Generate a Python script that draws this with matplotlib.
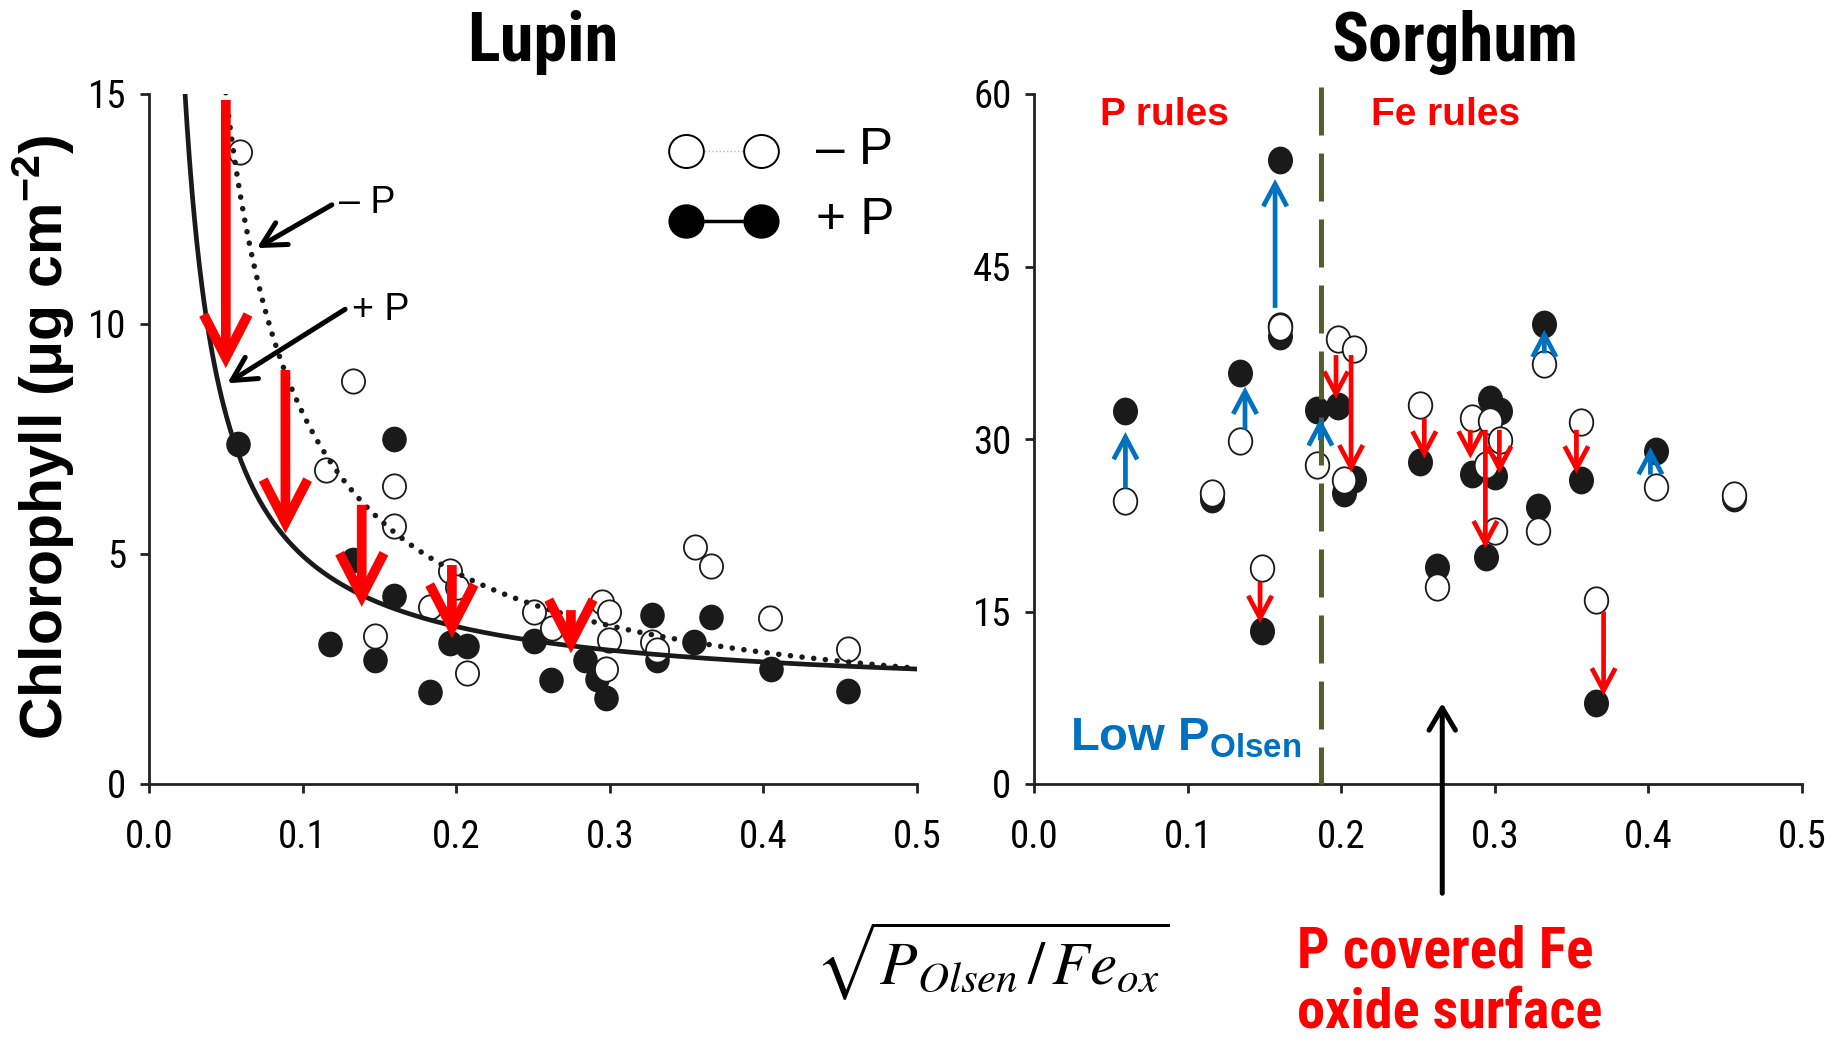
import numpy as np
import matplotlib
matplotlib.use("Agg")
import matplotlib.pyplot as plt
from matplotlib import font_manager as fm
from matplotlib.path import Path

# ---------------- data ----------------
# Lupin: open circles (-P) and filled circles (+P)
lupin_minusP_x = [0.059, 0.115, 0.133, 0.1596, 0.1592, 0.1472, 0.183, 0.196, 0.2004, 0.207,
                  0.2504, 0.2623, 0.2949, 0.2992, 0.2992, 0.2977, 0.3275, 0.3307, 0.3557,
                  0.3661, 0.404, 0.455]
lupin_minusP_y = [13.74, 6.82, 8.77, 6.48, 5.61, 3.22, 3.85, 4.62, 4.29, 2.41,
                  3.75, 3.40, 3.95, 3.73, 3.13, 2.49, 3.09, 2.91, 5.16,
                  4.74, 3.60, 2.94]
lupin_plusP_x = [0.058, 0.1592, 0.1327, 0.1596, 0.118, 0.1472, 0.1831, 0.196, 0.207, 0.2504,
                 0.2617, 0.284, 0.2917, 0.2977, 0.3275, 0.3307, 0.3546, 0.3659, 0.405, 0.455]
lupin_plusP_y = [7.39, 7.50, 4.87, 4.09, 3.04, 2.70, 2.01, 3.06, 2.99, 3.11,
                 2.27, 2.70, 2.28, 1.86, 3.67, 2.70, 3.09, 3.64, 2.50, 2.02]
# fitted curves  y = a + b / x
lupin_fit_plusP = (1.883, 0.308)
lupin_fit_minusP = (1.127, 0.694)
# red arrows (x, from, to)
lupin_arrow_x = [0.050, 0.0888, 0.1385, 0.1972, 0.2747]
lupin_arrow_from = [14.87, 9.00, 6.07, 4.76, 3.78]
lupin_arrow_to = [9.04, 5.45, 3.85, 3.17, 2.84]

# Sorghum: paired samples
sorghum_x = [0.059, 0.116, 0.134, 0.148, 0.160, 0.160, 0.184, 0.198, 0.2085, 0.202, 0.251,
             0.262, 0.285, 0.297, 0.303, 0.294, 0.300, 0.328, 0.332, 0.356, 0.366, 0.405, 0.456]
sorghum_minusP = [24.6, 25.3, 29.8, 18.8, 39.8, 39.7, 27.7, 38.7, 37.8, 26.4, 33.0,
                  17.1, 31.8, 31.6, 29.9, 27.7, 22.0, 22.0, 36.5, 31.5, 16.0, 25.8, 25.1]
sorghum_plusP = [32.4, 24.8, 35.7, 13.3, 54.3, 39.0, 32.5, 32.9, 26.5, 25.3, 28.0,
                 18.9, 27.0, 33.5, 32.4, 19.7, 26.8, 24.1, 40.0, 26.4, 7.05, 29.0, 24.9]
sorghum_arrow_x = [0.0593, 0.1372, 0.1568, 0.1863, 0.3322, 0.4013,
                   0.147, 0.1965, 0.2063, 0.254, 0.284, 0.2938, 0.3029, 0.3531, 0.3708]
sorghum_arrow_from = [25.7, 30.8, 41.4, 29.9, 37.45, 26.9,
                      17.6, 37.3, 37.3, 31.8, 30.8, 30.8, 30.8, 30.8, 15.0]
sorghum_arrow_to = [30.6, 34.55, 52.6, 31.8, 39.5, 29.3,
                    14.0, 33.5, 27.1, 28.3, 28.3, 20.5, 27.0, 27.0, 7.7]
sorghum_arrow_kind = ["up"] * 6 + ["down"] * 9
threshold_x = 0.187

xticks = [0.0, 0.1, 0.2, 0.3, 0.4, 0.5]
xticklabels = ["0.0", "0.1", "0.2", "0.3", "0.4", "0.5"]
lupin_yticks = [0, 5, 10, 15]
sorghum_yticks = [0, 15, 30, 45, 60]

# ---------------- style ----------------
RED = "#FF0000"
BLUE = "#0070C0"
OLIVE = "#4F6228"
DARK = "#1a1a1a"
SANS = "Liberation Sans"

# look for a narrow / condensed sans family
_fl = fm.fontManager.ttflist
_names = {f.name for f in _fl}
NARROW_FAM, NARROW_STRETCH, HAS_NARROW = SANS, "normal", False
for cand in ["Liberation Sans Narrow", "Arial Narrow", "Roboto Condensed"]:
    if cand in _names:
        NARROW_FAM, HAS_NARROW = cand, True
        break
if not HAS_NARROW:
    for fam in ["Roboto", "Open Sans", "Noto Sans", "DejaVu Sans"]:
        if any(f.name == fam and str(f.stretch) != "normal" for f in _fl):
            NARROW_FAM, NARROW_STRETCH, HAS_NARROW = fam, "condensed", True
            break

plt.rcParams["font.family"] = [SANS, "DejaVu Sans"]
plt.rcParams["mathtext.fontset"] = "custom"
plt.rcParams["mathtext.rm"] = "Liberation Sans"
plt.rcParams["mathtext.bf"] = "Liberation Sans:bold"
plt.rcParams["mathtext.it"] = "Liberation Sans:italic"

W, H = 1843, 1045
fig = plt.figure(figsize=(W / 100, H / 100), dpi=100)
fig.patch.set_facecolor("white")

axL = fig.add_axes([149 / W, 1 - 784 / H, 768 / W, 690 / H])
axR = fig.add_axes([1034.4 / W, 1 - 784 / H, 767.5 / W, 690 / H])

TICK_FS = 28 if HAS_NARROW else 25


def ellipse(ratio):
    c = Path.unit_circle()
    return Path(c.vertices * np.array([1.0 / ratio, 1.0]), c.codes)


def style_axis(ax, yticks):
    for s in ["top", "right"]:
        ax.spines[s].set_visible(False)
    for s in ["left", "bottom"]:
        ax.spines[s].set_linewidth(2.0)
        ax.spines[s].set_color("#222222")
    ax.set_xlim(0, 0.5)
    ax.set_xticks(xticks)
    ax.set_xticklabels(xticklabels)
    ax.set_yticks(yticks)
    ax.set_yticklabels([str(v) for v in yticks])
    ax.tick_params(axis="both", direction="out", length=6.5, width=2.0, color="#222222",
                   labelsize=TICK_FS)
    ax.tick_params(axis="x", pad=19)
    ax.tick_params(axis="y", pad=10)
    for lab in ax.get_xticklabels() + ax.get_yticklabels():
        lab.set_fontfamily(NARROW_FAM)
        lab.set_fontstretch(NARROW_STRETCH)


def arrow(ax, x, y0, y1, color, lw, hl, hw, z=6):
    ax.annotate("", xy=(x, y1), xytext=(x, y0),
                arrowprops=dict(arrowstyle=f"->,head_length={hl},head_width={hw}",
                                color=color, lw=lw, shrinkA=0, shrinkB=0,
                                mutation_scale=1, joinstyle="miter", capstyle="butt",
                                clip_on=False),
                annotation_clip=False, zorder=z)


# ---------------- Lupin ----------------
axL.set_ylim(0, 15)
style_axis(axL, lupin_yticks)
mL = ellipse(1.05)
axL.plot(lupin_plusP_x, lupin_plusP_y, ls="none", marker=mL, ms=17.5,
         mfc=DARK, mec=DARK, mew=1.0, zorder=3)
axL.plot(lupin_minusP_x, lupin_minusP_y, ls="none", marker=mL, ms=17.5,
         mfc="white", mec=DARK, mew=1.3, zorder=3)

xs = np.linspace(0.02, 0.5, 600)
a, b = lupin_fit_plusP
axL.plot(xs, a + b / xs, color=DARK, lw=3.4, zorder=4, solid_capstyle="butt")
xs2 = np.linspace(0.045, 0.5, 600)
a, b = lupin_fit_minusP
axL.plot(xs2, a + b / xs2, color=DARK, lw=4.0, ls=(0, (0.01, 2.1)),
         dash_capstyle="round", zorder=4)

for x, y0, y1 in zip(lupin_arrow_x, lupin_arrow_from, lupin_arrow_to):
    arrow(axL, x, y0, y1, RED, 7.0, 31, 16)

# pointer annotations
axL.annotate("", xy=(0.0702, 11.65), xytext=(0.119, 12.59),
             arrowprops=dict(arrowstyle="->,head_length=17,head_width=9", color="black",
                             lw=3.6, shrinkA=0, shrinkB=0, mutation_scale=1), zorder=7)
axL.annotate("", xy=(0.051, 8.71), xytext=(0.1277, 10.32),
             arrowprops=dict(arrowstyle="->,head_length=17,head_width=9", color="black",
                             lw=3.6, shrinkA=0, shrinkB=0, mutation_scale=1), zorder=7)
axL.text(0.1235, 12.41, "\u2013 P", fontsize=27, family=SANS, va="baseline", ha="left")
axL.text(0.132, 10.09, "+ P", fontsize=27, family=SANS, va="baseline", ha="left")

# legend (drawn)
lx1, lx2 = 0.3498, 0.3987
ly1, ly2 = 13.77, 12.24
axL.plot([lx1, lx2], [ly1, ly1], color="#bbbbbb", lw=1.0, ls=":", zorder=5)
axL.plot([lx1, lx2], [ly1, ly1], ls="none", marker=ellipse(0.95), ms=25, mfc="white",
         mec="black", mew=1.4, zorder=6, clip_on=False)
axL.plot([lx1, lx2], [ly2, ly2], color="black", lw=2.5, zorder=5)
axL.plot([lx1, lx2], [ly2, ly2], ls="none", marker=ellipse(0.95), ms=25, mfc="black",
         mec="black", mew=1.0, zorder=6, clip_on=False)
axL.text(0.4345, ly1, "\u2013 P", fontsize=37, family=SANS, va="center", ha="left")
axL.text(0.4345, ly2, "+ P", fontsize=37, family=SANS, va="center", ha="left")

# ---------------- Sorghum ----------------
axR.set_ylim(0, 60)
style_axis(axR, sorghum_yticks)
mR = ellipse(1.12)
axR.plot(sorghum_x, sorghum_plusP, ls="none", marker=mR, ms=19,
         mfc=DARK, mec=DARK, mew=1.0, zorder=3)
axR.plot(sorghum_x, sorghum_minusP, ls="none", marker=mR, ms=19,
         mfc="white", mec=DARK, mew=1.3, zorder=3)
axR.plot([threshold_x, threshold_x], [60.6, 0], color=OLIVE, lw=3.6,
         ls=(0, (9.6, 3.6)), zorder=4, clip_on=False, solid_capstyle="butt",
         dash_capstyle="butt")
for x, y0, y1, k in zip(sorghum_arrow_x, sorghum_arrow_from, sorghum_arrow_to,
                        sorghum_arrow_kind):
    arrow(axR, x, y0, y1, BLUE if k == "up" else RED, 3.4, 16, 8.5)

axR.text(0.0844, 57.3, "P rules", color=RED, fontsize=28, fontweight="bold",
         family=SANS, ha="center", va="baseline")
axR.text(0.268, 57.3, "Fe rules", color=RED, fontsize=28, fontweight="bold",
         family=SANS, ha="center", va="baseline")
axR.text(0.0232, 2.9, r"$\mathbf{Low\ P_{Olsen}}$", color=BLUE, fontsize=34,
         ha="left", va="baseline")
# black pointer arrow from below
axR.annotate("", xy=(0.2657, 7.04), xytext=(0.2657, -9.5),
             arrowprops=dict(arrowstyle="->,head_length=16,head_width=9.5", color="black",
                             lw=3.6, shrinkA=0, shrinkB=0, mutation_scale=1, clip_on=False),
             annotation_clip=False, zorder=7)

# ---------------- figure texts ----------------
fit_texts = []  # (text, target size in px, dimension)
t = fig.text(543 / W, 1 - 61 / H, "Lupin", fontsize=46, fontweight="bold",
             family=NARROW_FAM, fontstretch=NARROW_STRETCH, ha="center", va="baseline")
fit_texts.append((t, 151, "w"))
t = fig.text(1455 / W, 1 - 61 / H, "Sorghum", fontsize=46, fontweight="bold",
             family=NARROW_FAM, fontstretch=NARROW_STRETCH, ha="center", va="baseline")
fit_texts.append((t, 247, "w"))
t = fig.text(43 / W, 1 - 437 / H, r"Chlorophyll (μg cm$^{\mathregular{-2}}$)", fontsize=42,
             fontweight="bold", family=SANS, rotation=90, ha="center", va="center")
fit_texts.append((t, 605, "h"))
t = fig.text(992 / W, 1 - 961 / H, r"$\sqrt{P_{Olsen}\,/\,Fe_{ox}}$", fontsize=46,
             math_fontfamily="stix", ha="center", va="center")
fit_texts.append((t, 355, "w"))
t = fig.text(1445 / W, 1 - 968 / H, "P covered Fe", color=RED, fontsize=40,
             fontweight="bold", family=NARROW_FAM, fontstretch=NARROW_STRETCH,
             ha="center", va="baseline")
fit_texts.append((t, 297, "w"))
t = fig.text(1450 / W, 1 - 1028 / H, "oxide surface", color=RED, fontsize=40,
             fontweight="bold", family=NARROW_FAM, fontstretch=NARROW_STRETCH,
             ha="center", va="baseline")
fit_texts.append((t, 305, "w"))

# fit text sizes to the measured extents
fig.canvas.draw()
rend = fig.canvas.get_renderer()
for _ in range(2):
    for t, target, dim in fit_texts:
        bb = t.get_window_extent(rend)
        cur = bb.width if dim == "w" else bb.height
        if cur > 0:
            t.set_fontsize(t.get_fontsize() * target / cur)
    fig.canvas.draw()

fig.savefig("out.png", dpi=100, facecolor="white")
